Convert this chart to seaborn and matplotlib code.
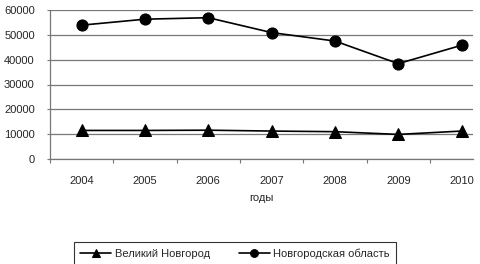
import pandas as pd
import matplotlib.pyplot as plt
import seaborn as sns

years = ['2004', '2005', '2006', '2007', '2008', '2009', '2010']
velikiy_novgorod = [11500, 11500, 11600, 11250, 11000, 9900, 11250]
novgorod_oblast = [53900, 56300, 56900, 50900, 47500, 38400, 45800]

df = pd.DataFrame({
    'x': list(range(len(years))) * 2,
    'value': velikiy_novgorod + novgorod_oblast,
    'series': ['Великий Новгород'] * len(years) + ['Новгородская область'] * len(years),
})

sns.set_style('white')
plt.rcParams['font.family'] = ['Liberation Sans', 'DejaVu Sans']
plt.rcParams['font.size'] = 8

fig = plt.figure(figsize=(4.8, 2.64), dpi=100)
ax = fig.add_axes([50 / 480, 1 - 159 / 264, 423 / 480, 149 / 264])

sns.lineplot(data=df, x='x', y='value', style='series', markers={'Великий Новгород': '^', 'Новгородская область': 'o'},
             dashes=False, color='black', linewidth=1.2, markersize=8, markeredgecolor='black', ax=ax, legend=True)

ax.set_ylim(0, 60000)
ax.set_yticks(range(0, 60001, 10000))
ax.yaxis.grid(True, color='#777777', linewidth=0.9)
ax.set_axisbelow(True)
ax.set_xticks([i + 0.5 for i in range(-1, 7)])
ax.set_xticklabels([])
ax.set_xticks(range(len(years)), minor=True)
ax.set_xticklabels(years, minor=True)
ax.set_xlim(-0.5, 6.18)
ax.tick_params(axis='x', which='major', length=3, color='#777777', direction='out', bottom=True)
ax.tick_params(axis='x', which='minor', length=0, pad=12)
ax.tick_params(axis='y', length=2, color='#777777', left=True, pad=9)
ax.set_xlabel('годы', labelpad=5)
ax.set_ylabel('')
for s in ['top', 'right']:
    ax.spines[s].set_visible(False)
for s in ['left', 'bottom']:
    ax.spines[s].set_color('#777777')
    ax.spines[s].set_linewidth(0.9)

handles, labels = ax.get_legend_handles_labels()
ax.get_legend().remove()
leg = fig.legend(handles, labels, loc='upper center', bbox_to_anchor=(235 / 480, 1 - 242 / 264), ncol=2,
                 frameon=True, fancybox=False, edgecolor='black', handlelength=2.8, handletextpad=0.3,
                 columnspacing=2.6, borderpad=0.6, borderaxespad=0, fontsize=8, markerscale=0.7)
leg.get_frame().set_linewidth(0.8)

fig.savefig('out.png', dpi=100)
